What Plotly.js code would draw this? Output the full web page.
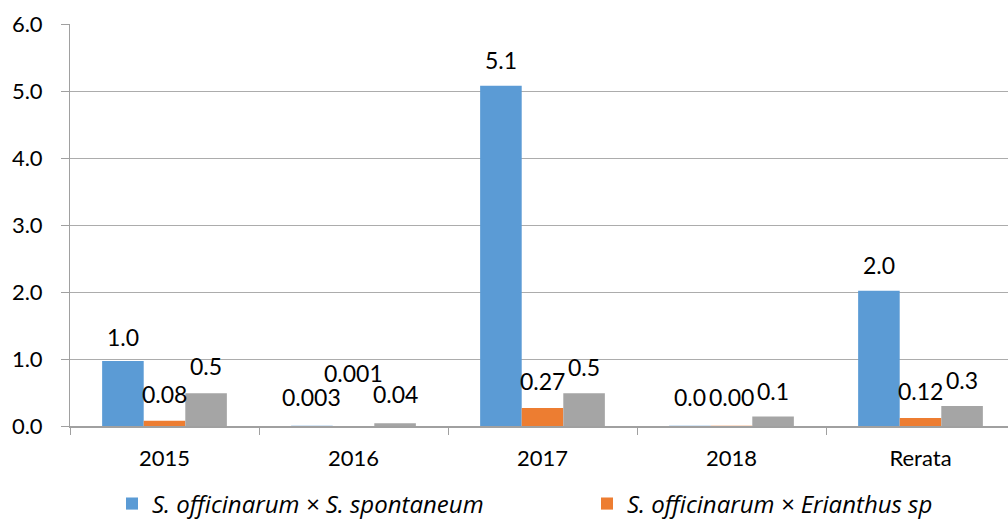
<!DOCTYPE html>
<html>
<head>
<meta charset="utf-8">
<script src="https://cdn.plot.ly/plotly-3.0.1.min.js"></script>
<style>
html,body{margin:0;padding:0;overflow:hidden;background:#fff;}
#chart{width:1015px;height:522px;}
</style>
</head>
<body>
<div id="chart"></div>
<script>
// ---- data ----
var categories = ["2015", "2016", "2017", "2018", "Rerata"];
var seriesNames = ["S. officinarum × S. spontaneum", "S. officinarum × Erianthus sp", "Seri 3"];
var spontaneumValues = [0.97, 0.003, 5.08, 0.004, 2.02];
var erianthusValues = [0.08, 0.001, 0.27, 0.002, 0.12];
var thirdValues = [0.49, 0.04, 0.49, 0.14, 0.30];
var spontaneumLabels = ["1.0", "0.003", "5.1", "0.0", "2.0"];
var erianthusLabels = ["0.08", "0.001", "0.27", "0.00", "0.12"];
var thirdLabels = ["0.5", "0.04", "0.5", "0.1", "0.3"];
var yTickVals = [0, 1, 2, 3, 4, 5, 6];
var yTickText = ["0.0", "1.0", "2.0", "3.0", "4.0", "5.0", "6.0"];

// ---- styles ----
var colors = ["#5b9bd5", "#ed7d31", "#a5a5a5"];
var BARGAP = 0.34;
// vertical lift (px) of each label centre above its bar top
var labelLift = [
  [24, 29, 26, 29, 26],
  [27, 53, 27, 29, 27],
  [27, 29, 26, 26, 26]
];
var legendWidths = [430, 330, 0];
var FONT = "Lato, 'Liberation Sans', sans-serif";
var LEGEND_FONT = "'Open Sans', Lato, sans-serif";

var values = [spontaneumValues, erianthusValues, thirdValues];
var labels = [spontaneumLabels, erianthusLabels, thirdLabels];

var traces = values.map(function (v, i) {
  var t = {
    type: "bar",
    x: categories,
    y: v,
    name: seriesNames[i],
    marker: {color: colors[i], line: {width: 0}},
    showlegend: i < 2,
    hoverinfo: "x+y"
  };
  if (legendWidths[i]) t.legendwidth = legendWidths[i];
  return t;
});

var nSeries = values.length;
var barFrac = (1 - BARGAP) / nSeries;
var annotations = [];
values.forEach(function (v, i) {
  v.forEach(function (val, j) {
    annotations.push({
      xref: "x", yref: "y",
      x: j + (i - (nSeries - 1) / 2) * barFrac,
      y: val,
      text: labels[i][j],
      showarrow: false,
      xanchor: "center",
      yanchor: "middle",
      yshift: labelLift[i][j],
      font: {family: FONT, size: 23, color: "#000"}
    });
  });
});

var layout = {
  width: 1015,
  height: 522,
  margin: {l: 70, r: 0, t: 24, b: 96, autoexpand: false},
  paper_bgcolor: "#fff",
  plot_bgcolor: "#fff",
  barmode: "group",
  bargap: BARGAP,
  bargroupgap: 0,
  font: {family: FONT, size: 22, color: "#000"},
  xaxis: {
    type: "category",
    showline: true,
    linecolor: "#a0a0a0",
    linewidth: 1.5,
    ticks: "outside",
    tickson: "boundaries",
    ticklen: 7,
    tickcolor: "#a0a0a0",
    tickwidth: 1,
    showgrid: false,
    zeroline: false,
    automargin: false,
    tickfont: {family: FONT, size: 22, color: "#000"},
    ticklabelstandoff: 12
  },
  yaxis: {
    range: [0, 6],
    tickvals: yTickVals,
    ticktext: yTickText,
    showline: true,
    linecolor: "#a0a0a0",
    linewidth: 1,
    ticks: "outside",
    ticklen: 8,
    tickcolor: "#a0a0a0",
    showgrid: true,
    gridcolor: "#acacac",
    gridwidth: 1,
    zeroline: false,
    automargin: false,
    tickfont: {family: FONT, size: 22, color: "#000"},
    ticklabelstandoff: 14
  },
  legend: {
    orientation: "h",
    x: (112 - 70) / 945,
    xanchor: "left",
    y: (426 - 504) / 402,
    yanchor: "middle",
    itemwidth: 30,
    font: {family: LEGEND_FONT, size: 24, color: "#000", style: "italic"},
    bgcolor: "rgba(0,0,0,0)",
    traceorder: "normal"
  },
  annotations: annotations
};

Plotly.newPlot("chart", traces, layout, {displayModeBar: false, staticPlot: true});
</script>
</body>
</html>
